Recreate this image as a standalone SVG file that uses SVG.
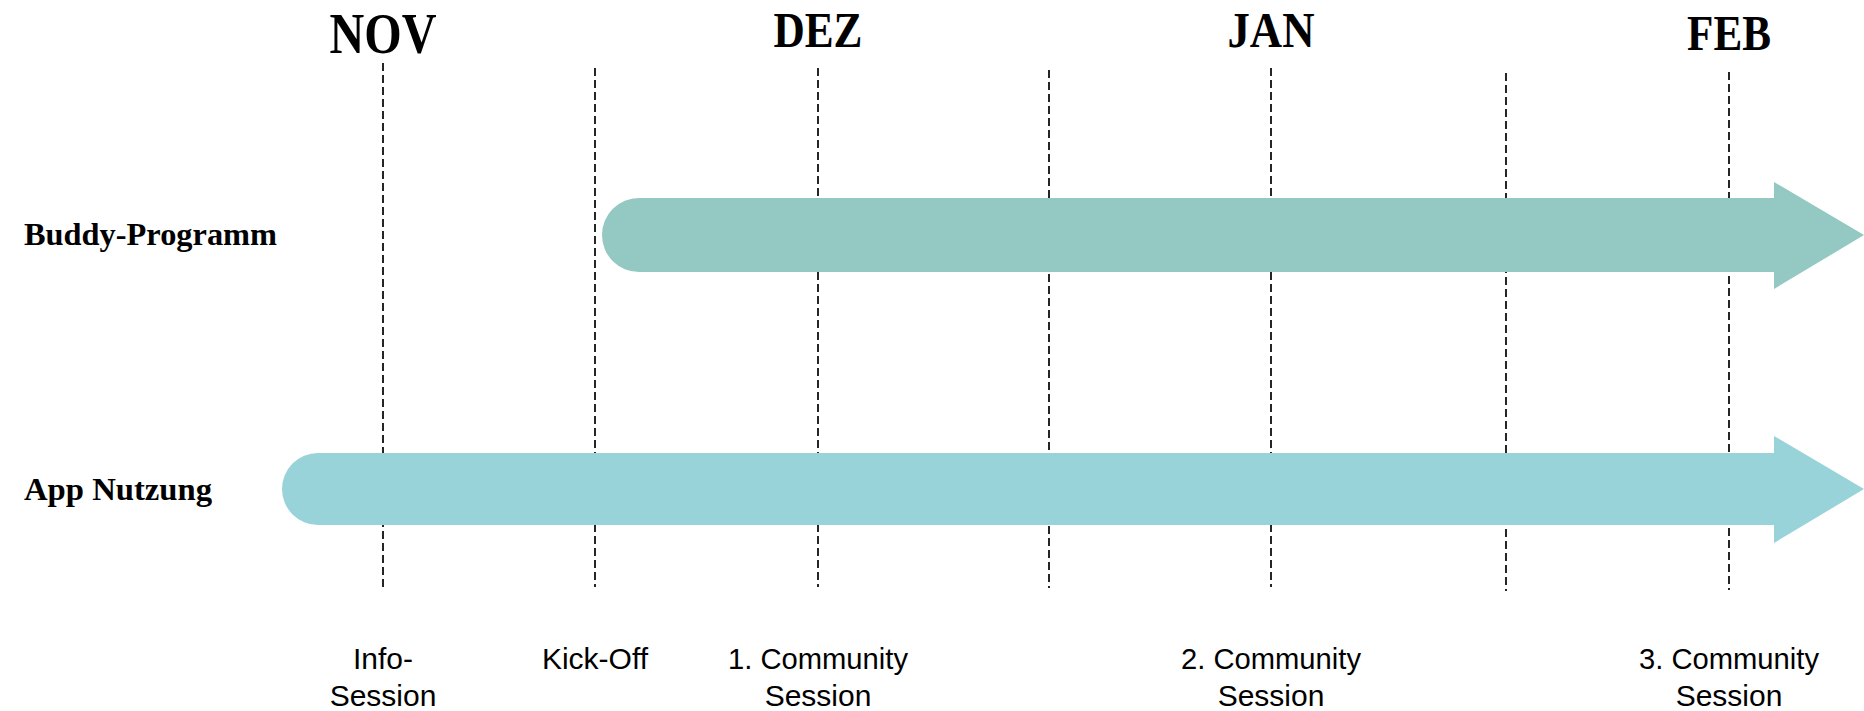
<svg xmlns="http://www.w3.org/2000/svg" width="1864" height="711" viewBox="0 0 1864 711">
<style>
.month{font-family:"Liberation Serif","DejaVu Serif",serif;font-weight:bold;fill:#000;text-anchor:middle}
.row{font-family:"Liberation Serif","DejaVu Serif",serif;font-weight:bold;font-size:31px;fill:#000}
.lbl{font-family:"Liberation Sans","Noto Sans",sans-serif;font-size:30px;fill:#000;text-anchor:middle}
.grid line{stroke:#000;stroke-width:1.7;stroke-dasharray:8 4;fill:none}
</style>
<rect width="1864" height="711" fill="#fff"/>
<g id="gridlines" class="grid">
<line x1="383" y1="63" x2="383" y2="587"/>
<line x1="595" y1="68" x2="595" y2="587"/>
<line x1="818" y1="68" x2="818" y2="587"/>
<line x1="1049" y1="70" x2="1049" y2="588"/>
<line x1="1271" y1="68" x2="1271" y2="587"/>
<line x1="1506" y1="73" x2="1506" y2="591"/>
<line x1="1729" y1="72" x2="1729" y2="590"/>
</g>
<g id="months">
<text class="month" x="383" y="53" font-size="57" textLength="107" lengthAdjust="spacingAndGlyphs">NOV</text>
<text class="month" x="818" y="47" font-size="51" textLength="89" lengthAdjust="spacingAndGlyphs">DEZ</text>
<text class="month" x="1271" y="47" font-size="51" textLength="87" lengthAdjust="spacingAndGlyphs">JAN</text>
<text class="month" x="1729" y="50" font-size="50" textLength="84" lengthAdjust="spacingAndGlyphs">FEB</text>
</g>
<g id="buddy-programm">
<text class="row" x="24" y="245" textLength="253" lengthAdjust="spacingAndGlyphs">Buddy-Programm</text>
<path d="M639,198 H1774 V182 L1864,235 L1774,289 V272 H639 A37,37 0 0 1 639,198 Z" fill="#93C9C2"/>
</g>
<g id="app-nutzung">
<text class="row" x="24" y="500" textLength="188" lengthAdjust="spacingAndGlyphs">App Nutzung</text>
<path d="M318,453 H1774 V436 L1864,489 L1774,543 V525 H318 A36,36 0 0 1 318,453 Z" fill="#97D3D9"/>
</g>
<g id="events">
<text class="lbl" x="383" y="669">Info-</text>
<text class="lbl" x="383" y="706">Session</text>
<text class="lbl" x="595" y="669">Kick-Off</text>
<text class="lbl" x="818" y="669" textLength="180" lengthAdjust="spacingAndGlyphs">1. Community</text>
<text class="lbl" x="818" y="706">Session</text>
<text class="lbl" x="1271" y="669" textLength="180" lengthAdjust="spacingAndGlyphs">2. Community</text>
<text class="lbl" x="1271" y="706">Session</text>
<text class="lbl" x="1729" y="669" textLength="180" lengthAdjust="spacingAndGlyphs">3. Community</text>
<text class="lbl" x="1729" y="706">Session</text>
</g>
</svg>
